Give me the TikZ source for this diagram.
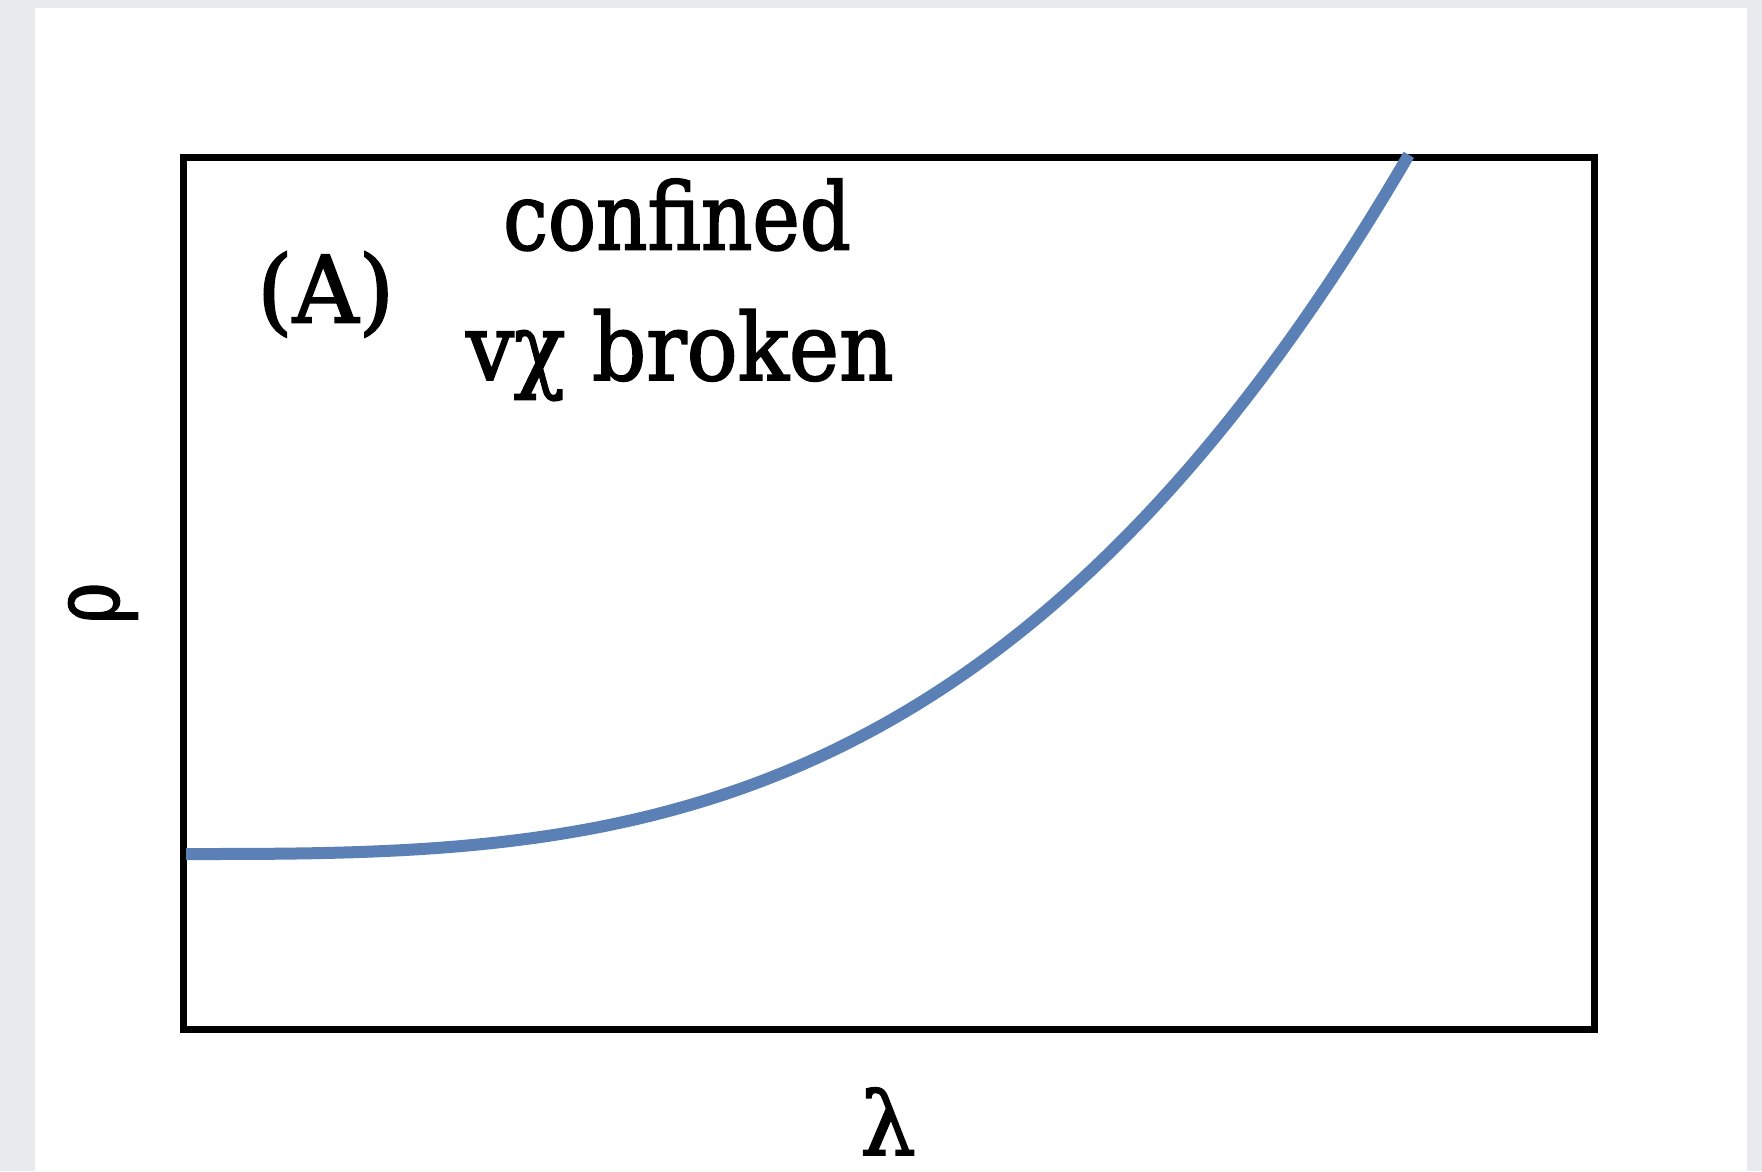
\documentclass[tikz,border=0pt]{standalone}
\usepackage{fontspec}
\setmainfont{DejaVu Serif}[FakeBold=2]
\newfontfamily\lblfont{DejaVu Serif}[FakeBold=2]
\definecolor{bggray}{RGB}{232,234,237}
\definecolor{curveblue}{RGB}{91,128,181}
\tikzset{
  lbl/.style={inner sep=0pt, font=\lblfont\fontsize{93}{100}\selectfont},
  frame/.style={draw=black, line width=7pt},
  phasecurve/.style={draw=curveblue, line width=12pt, line cap=butt}
}
\begin{document}
\begin{tikzpicture}[x=1pt,y=-1pt]
\useasboundingbox (0,0) rectangle (1762,1171);
\fill[bggray] (0,0) rectangle (1762,1171);
\fill[white] (35,8) rectangle (1747,1171);
\draw[frame] (183,157) rectangle (1594,1029);
\draw[phasecurve] plot[domain=0.0001:1, samples=150, smooth] ({186+1225*\x}, {854-703*(\x)^3});
\node[lbl, anchor=base west, xscale=0.98] (lab) at (257,322.5) {(A)};
\node[lbl, anchor=base west, xscale=0.86] (conf) at (503,249.5) {confined};
\node[lbl, anchor=base west, xscale=0.91] (brok) at (466,380) {vχ broken};
\node[lbl, rotate=90, xscale=0.75] (rho) at (103,603) {ρ};
\node[lbl, anchor=base, font=\lblfont\fontsize{88}{95}\selectfont] (lam) at (888,1155) {λ};
\end{tikzpicture}
\end{document}
